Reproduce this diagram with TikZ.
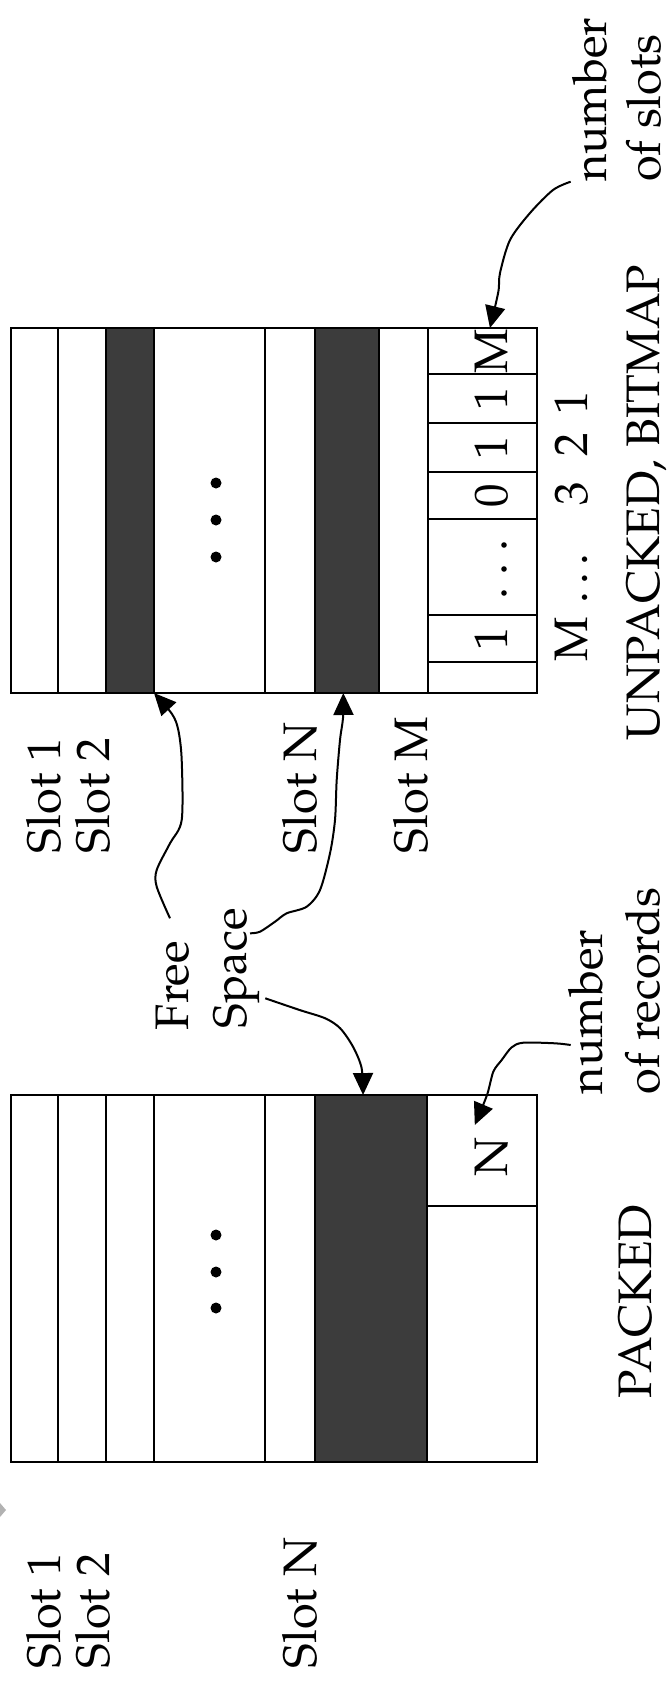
\documentclass[tikz,border=0pt]{standalone}
\usepackage[T1]{fontenc}
\usepackage{mathpazo}
\usetikzlibrary{arrows.meta}
\definecolor{slotdark}{RGB}{60,60,60}
\tikzset{
  cellbox/.style={draw, line width=2pt, inner sep=0pt, outer sep=0pt, fill=white},
  darkbox/.style={cellbox, fill=slotdark},
  txt/.style={rotate=90, inner sep=0pt, outer sep=0pt, font=\fontsize{47}{56}\selectfont},
  dig/.style={txt, anchor=base},
  lbl/.style={txt, anchor=base west},
  arr/.style={line width=2pt, -{Triangle[length=22pt,width=20pt]}},
  dotmark/.style={fill=black}
}
\begin{document}
\begin{tikzpicture}[x=1pt,y=-1pt]
\useasboundingbox (0,0) rectangle (670,1685);
% ---------- UNPACKED box ----------
\node[cellbox, minimum width=47.1, minimum height=365] (u1) at (34.25,510.5) {};
\node[cellbox, minimum width=48.3, minimum height=365] (u2) at (81.95,510.5) {};
\node[darkbox, minimum width=47.9, minimum height=365] (u3) at (130.05,510.5) {};
\node[cellbox, minimum width=111.3, minimum height=365] (u4) at (209.65,510.5) {};
\node[cellbox, minimum width=49.2, minimum height=365] (u5) at (289.9,510.5) {};
\node[darkbox, minimum width=64.2, minimum height=365] (u6) at (346.6,510.5) {};
\node[cellbox, minimum width=49.2, minimum height=365] (u7) at (403.3,510.5) {};
% bitmap cells
\node[cellbox, minimum width=109.1, minimum height=46] (b1) at (482.45,351) {};
\node[cellbox, minimum width=109.1, minimum height=49] (b2) at (482.45,398.5) {};
\node[cellbox, minimum width=109.1, minimum height=49] (b3) at (482.45,447.5) {};
\node[cellbox, minimum width=109.1, minimum height=47] (b4) at (482.45,495.5) {};
\node[cellbox, minimum width=109.1, minimum height=96] (b5) at (482.45,567) {};
\node[cellbox, minimum width=109.1, minimum height=47] (b6) at (482.45,638.5) {};
\node[cellbox, minimum width=109.1, minimum height=31] (b7) at (482.45,677.5) {};
\node[dig] (d1) at (507,351) {M};
\node[dig] (d2) at (507,398.5) {1};
\node[dig] (d3) at (507,447.5) {1};
\node[dig] (d4) at (507,495.5) {0};
\node[dig] (d6) at (507,638.5) {1};
\fill[dotmark] (504,545) circle (2.8) (504,569) circle (2.8) (504,593) circle (2.8);
% big dots
\fill[dotmark] (216,483) circle (5.5) (216,520) circle (5.5) (216,557) circle (5.5);
% bit index labels
\node[dig] (i1) at (587,402.5) {1};
\node[dig] (i2) at (587,445) {2};
\node[dig] (i3) at (587,493.5) {3};
\node[dig] (idots) at (587,575) {\dots};
\node[dig] (iM) at (587,639) {M};
% slot labels (unpacked)
\node[lbl] (us1) at (60,853) {Slot 1};
\node[lbl] (us2) at (109,853) {Slot 2};
\node[lbl] (usN) at (316,853) {Slot N};
\node[lbl] (usM) at (427,853) {Slot M};
\node[lbl] (unp) at (659,740) {UNPACKED, BITMAP};
\node[lbl] (ns1) at (606,182) {number};
\node[lbl] (ns2) at (660,182) {of slots};
% ---------- Free Space ----------
\node[lbl] (free) at (188,1030) {Free};
\node[lbl] (space) at (246,1028) {Space};
% ---------- PACKED box ----------
\node[cellbox, minimum width=47.1, minimum height=367] (p1) at (34.25,1278.5) {};
\node[cellbox, minimum width=48.3, minimum height=367] (p2) at (81.95,1278.5) {};
\node[cellbox, minimum width=47.9, minimum height=367] (p3) at (130.05,1278.5) {};
\node[cellbox, minimum width=111.3, minimum height=367] (p4) at (209.65,1278.5) {};
\node[cellbox, minimum width=49.2, minimum height=367] (p5) at (289.9,1278.5) {};
\node[darkbox, minimum width=112.1, minimum height=367] (p6) at (370.55,1278.5) {};
\node[cellbox, minimum width=110.4, minimum height=111] (pN) at (481.8,1150.5) {};
\node[cellbox, minimum width=110.4, minimum height=256] (pL) at (481.8,1334) {};
\node[dig] (dN) at (507,1156.5) {N};
\fill[dotmark] (216,1235) circle (5.5) (216,1272) circle (5.5) (216,1308) circle (5.5);
\node[lbl] (nr1) at (602,1094) {number};
\node[lbl] (nr2) at (659,1094) {of records};
\node[lbl] (pk) at (651,1398) {PACKED};
\node[lbl] (ps1) at (60,1668) {Slot 1};
\node[lbl] (ps2) at (109,1668) {Slot 2};
\node[lbl] (psN) at (316,1668) {Slot N};
% small grey mark at left edge
\fill[gray!60] (0,1503) -- (6,1510) -- (0,1517) -- cycle;
% ---------- connectors ----------
\coordinate (s1) at (570.7,181.7);
\coordinate (t1) at ([xshift=7.5pt]b1.north);
\draw[arr] plot[smooth, tension=0.5] coordinates {(s1) (553,190) (530,213) (510,240) (500,273) (498.3,292) (t1)};
\coordinate (s2) at (570.7,1045);
\coordinate (t2) at ([xshift=-7pt,yshift=25.5pt]pN.center);
\draw[arr] plot[smooth, tension=0.5] coordinates {(s2) (555,1043.3) (523.3,1042.7) (511.7,1047.3) (501.7,1060) (493.3,1071.7) (487,1095) (t2)};
\coordinate (s3) at (170,918.3);
\draw[arr] plot[smooth, tension=0.5] coordinates {(s3) (156.7,886.7) (156.7,870) (170,843.3) (181.7,820) (181.7,760) (178.3,730) (172,714) (u3.south east)};
\coordinate (s4) at (250,933.3);
\coordinate (t4) at ([xshift=-3.3pt]u6.south);
\draw[arr] plot[smooth, tension=0.5] coordinates {(s4) (260,931.7) (275,921.7) (286.7,913.3) (306.7,906.7) (320,890) (330,853.3) (335,820) (336.7,780) (340,740) (343,718) (t4)};
\coordinate (s5) at (265.3,998.3);
\coordinate (t5) at ([xshift=-7.5pt]p6.north);
\draw[arr] plot[smooth, tension=0.5] coordinates {(s5) (299.6,1010) (325.2,1018.3) (340.2,1028.3) (353,1046.7) (361.6,1068) (t5)};
\end{tikzpicture}
\end{document}
